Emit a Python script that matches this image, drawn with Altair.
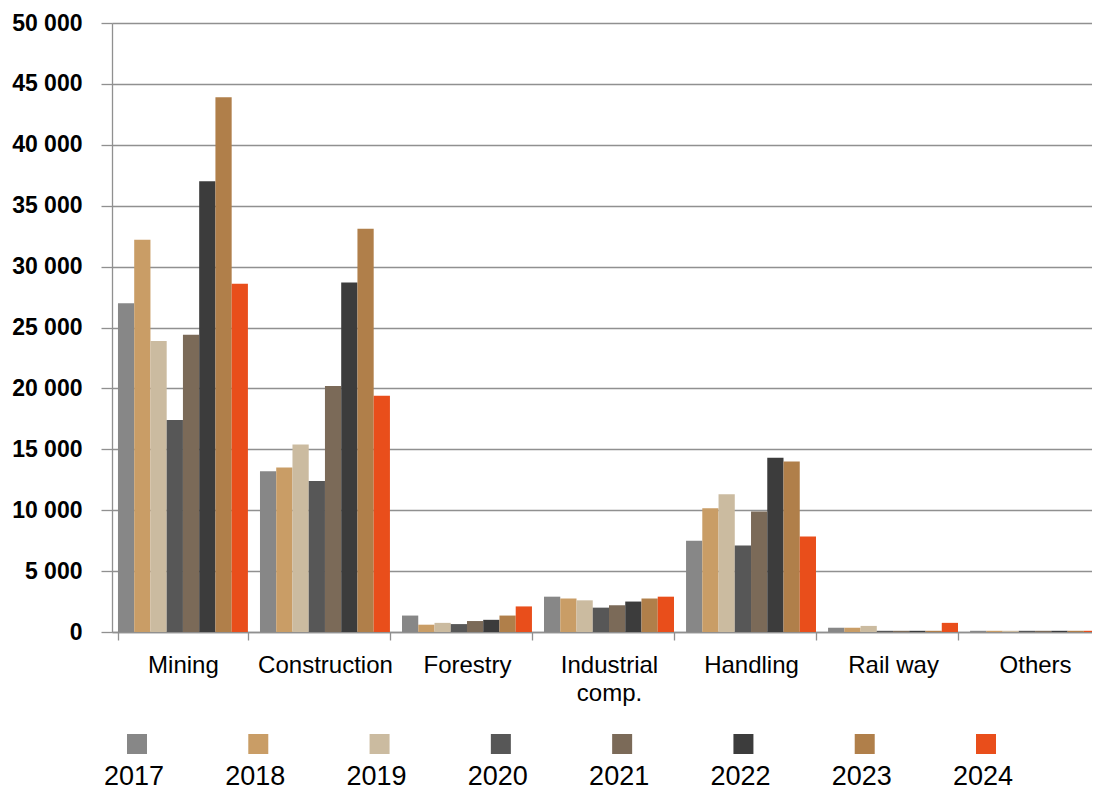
import altair as alt
import pandas as pd

categories = ["Mining", "Construction", "Forestry", "Industrial comp.", "Handling", "Rail way", "Others"]
years = ["2017", "2018", "2019", "2020", "2021", "2022", "2023", "2024"]
colors = ["#878787", "#C99D66", "#CBBBA0", "#575757", "#7B6A58", "#3C3C3C", "#B07F4A", "#E94E1B"]

v2017 = [27000, 13200, 1350, 2900, 7500, 350, 100]
v2018 = [32200, 13500, 600, 2750, 10150, 350, 100]
v2019 = [23900, 15400, 750, 2600, 11300, 500, 100]
v2020 = [17400, 12400, 650, 2000, 7100, 100, 100]
v2021 = [24400, 20200, 900, 2200, 9900, 100, 100]
v2022 = [37000, 28700, 1000, 2500, 14300, 100, 100]
v2023 = [43900, 33100, 1350, 2750, 14000, 100, 100]
v2024 = [28600, 19400, 2100, 2900, 7850, 750, 100]

series = [v2017, v2018, v2019, v2020, v2021, v2022, v2023, v2024]
rows = []
for y, vals in zip(years, series):
    for c, v in zip(categories, vals):
        rows.append({"category": c, "year": y, "value": v})
df = pd.DataFrame(rows)
leg = pd.DataFrame({"year": years})

FONT = "Liberation Sans"
GRID = "#909090"

color_scale = alt.Scale(domain=years, range=colors)

bars = alt.Chart(df).mark_bar().encode(
    x=alt.X("category:N", sort=categories, title=None,
            scale=alt.Scale(paddingInner=0.085, paddingOuter=0.042, range=[0, 994]),
            axis=alt.Axis(labelAngle=0, labelFont=FONT, labelFontSize=24, labelColor="#000",
                          tickBand="extent", tickSize=8, tickColor=GRID, tickWidth=1.3,
                          domainColor=GRID, domainWidth=1.3, labelPadding=13,
                          labelBaseline="top", labelLineHeight=28,
                          labelExpr="datum.label == 'Industrial comp.' ? ['Industrial', 'comp.'] : datum.label")),
    xOffset=alt.XOffset("year:N", sort=years, scale=alt.Scale(paddingInner=0, paddingOuter=0)),
    y=alt.Y("value:Q", title=None,
            scale=alt.Scale(domain=[0, 50000], nice=False),
            axis=alt.Axis(values=list(range(0, 50001, 5000)),
                          labelExpr="replace(format(datum.value, ',d'), ',', ' ')",
                          labelFont=FONT, labelFontSize=23, labelFontWeight="bold", labelColor="#000",
                          tickSize=11, tickColor=GRID, tickWidth=1.3, labelPadding=19,
                          grid=True, gridColor=GRID, gridWidth=1.3,
                          domainColor=GRID, domainWidth=1.3)),
    color=alt.Color("year:N", scale=color_scale, legend=None),
)

leg_x = alt.X("year:O", sort=years, scale=alt.Scale(type="point", range=[25, 874], padding=0), axis=None)

leg_sq = alt.Chart(leg).mark_point(shape="square", filled=True, size=400, opacity=1).encode(
    x=leg_x,
    y=alt.value(721),
    color=alt.Color("year:N", scale=color_scale, legend=None),
)

leg_txt = alt.Chart(leg).mark_text(font=FONT, fontSize=27, color="#000", baseline="alphabetic", dx=-3).encode(
    x=leg_x,
    y=alt.value(762),
    text="year:N",
)

chart = alt.layer(bars, leg_sq, leg_txt).resolve_scale(x="independent").properties(
    width=980, height=609,
    autosize=alt.AutoSizeParams(type="none"),
    padding={"left": 104, "top": 15, "right": 0, "bottom": 160},
).configure_view(stroke=None).configure(background="white")

chart.save("out.html", embed_options={"renderer": "svg", "actions": False})
